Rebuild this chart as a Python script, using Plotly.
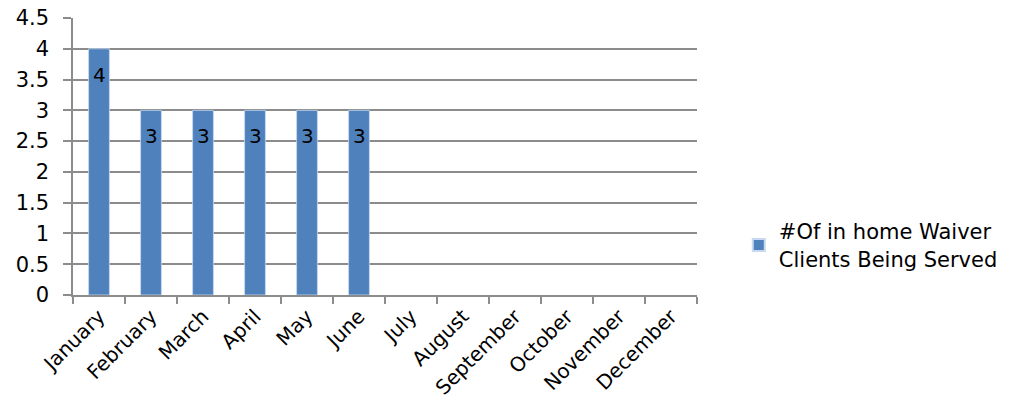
import plotly.graph_objects as go

months = ["January", "February", "March", "April", "May", "June", "July",
          "August", "September", "October", "November", "December"]
clients = [4, 3, 3, 3, 3, 3, None, None, None, None, None, None]
series_name = "#Of in home Waiver<br>Clients Being Served"

FONT = "DejaVu Sans"
GRID = "#8c8c8c"

fig = go.Figure()
fig.add_trace(go.Bar(
    x=months, y=clients, name=series_name,
    marker=dict(color="#4F81BD", line=dict(color="#c6d9f1", width=0.8)),
    width=0.4,
))

# value labels just below the top of each bar
for m, v in zip(months, clients):
    if v is not None:
        fig.add_annotation(x=m, y=v, text=f"{v:g}", showarrow=False,
                           yanchor="middle", yshift=-26,
                           font=dict(family=FONT, size=20, color="black"))

fig.update_layout(
    width=1022, height=401,
    margin=dict(l=73, r=325, t=18, b=106, autoexpand=False),
    plot_bgcolor="white", paper_bgcolor="white",
    bargap=0.6,
    showlegend=True,
    legend=dict(x=1.067, y=0.18, xanchor="left", yanchor="middle",
                font=dict(family=FONT, size=21, color="black"),
                itemsizing="constant"),
)
fig.update_xaxes(
    type="category", categoryorder="array", categoryarray=months,
    tickangle=-45, tickson="boundaries", ticks="outside", ticklen=7,
    tickcolor=GRID, tickwidth=1.5,
    showline=True, linecolor=GRID, linewidth=1.5,
    showgrid=False, automargin=False,
    tickfont=dict(family=FONT, size=20, color="black"),
)
fig.update_yaxes(
    range=[0, 4.5], dtick=0.5, ticks="outside", ticklen=8,
    tickcolor=GRID, tickwidth=1.5,
    showline=True, linecolor=GRID, linewidth=1.5,
    showgrid=True, gridcolor=GRID, gridwidth=1.5,
    zeroline=False, ticklabelstandoff=10, automargin=False,
    tickfont=dict(family=FONT, size=21, color="black"),
)

fig.write_html("out.html")
